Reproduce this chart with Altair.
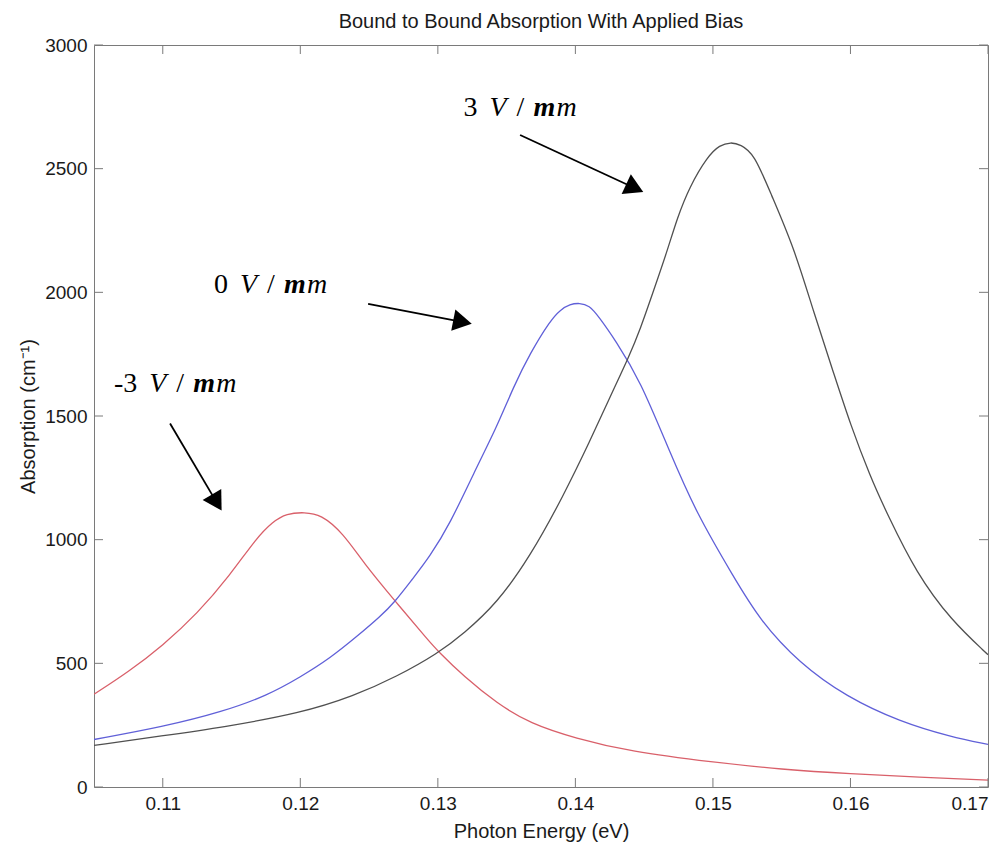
import altair as alt
import pandas as pd

# ---------------- data ----------------
series_names = ["-3 V/um", "0 V/um", "3 V/um"]
series_colors = ["#d9606a", "#6060d8", "#505050"]

red_x = [0.105, 0.1075, 0.11, 0.1125, 0.1149, 0.1168, 0.118, 0.119, 0.1203, 0.1215,
         0.1231, 0.1246, 0.1269, 0.1294, 0.1300, 0.1319, 0.1343, 0.1367, 0.14, 0.144,
         0.15, 0.155, 0.16, 0.165, 0.17]
red_y = [375, 465, 572, 700, 857, 1006, 1073, 1106, 1111, 1102,
         1027, 906, 751, 587, 550, 446, 338, 257, 197, 143,
         100, 71, 53, 40, 28]

blue_x = [0.105, 0.11, 0.1144, 0.1176, 0.12, 0.1222, 0.1241, 0.1258, 0.1269, 0.1281,
          0.1294, 0.1309, 0.1326, 0.1343, 0.1355, 0.1367, 0.1382, 0.1389, 0.1396, 0.1403,
          0.141, 0.1417, 0.1429, 0.1447, 0.1469, 0.1488, 0.1515, 0.1534, 0.1563, 0.1597,
          0.1636, 0.1673, 0.17]
blue_y = [192, 243, 305, 370, 444, 522, 608, 688, 750, 837,
          930, 1066, 1268, 1457, 1618, 1753, 1888, 1929, 1952, 1957,
          1948, 1902, 1807, 1646, 1349, 1107, 850, 675, 500, 365,
          264, 203, 172]

black_x = [0.105, 0.11, 0.1144, 0.12, 0.1239, 0.127, 0.13, 0.1319, 0.1343, 0.1367,
           0.1391, 0.1411, 0.1425, 0.1439, 0.1447, 0.1457, 0.1467, 0.1474, 0.1483, 0.1496,
           0.1505, 0.1513, 0.152, 0.153, 0.1542, 0.1559, 0.1573, 0.1588, 0.16, 0.1614,
           0.1627, 0.1648, 0.1673, 0.17]
black_y = [168, 207, 242, 298, 368, 446, 540, 621, 743, 931,
           1174, 1403, 1575, 1740, 1848, 2009, 2171, 2300, 2427, 2549,
           2596, 2607, 2598, 2560, 2400, 2180, 1924, 1670, 1465, 1260,
           1100, 864, 675, 535]

x_ticks = [0.11, 0.12, 0.13, 0.14, 0.15, 0.16, 0.17]
y_ticks = [0, 500, 1000, 1500, 2000, 2500, 3000]

# annotation anchors (left edge of "V", text baseline) in data units
label_numbers = ["-3", "0", "3"]
label_x = [0.10902, 0.11562, 0.13375]
label_y = [1598, 1999, 2711]

# arrows: start -> arrow head centre (data units), head angle (deg)
arrow_x1 = [0.11053, 0.12493, 0.13598]
arrow_y1 = [1470, 1953, 2636]
arrow_x2 = [0.11381, 0.13157, 0.14411]
arrow_y2 = [1161, 1883, 2427]
arrow_angle = [149, 101, 115]

# ---------------- build tables ----------------
rows = []
for name, xs, ys in zip(series_names, [red_x, blue_x, black_x], [red_y, blue_y, black_y]):
    for xv, yv in zip(xs, ys):
        rows.append({"series": name, "energy": xv, "absorption": yv})
df = pd.DataFrame(rows)

labels_df = pd.DataFrame({"num": label_numbers, "energy": label_x, "absorption": label_y})
arrows_df = pd.DataFrame({"energy": arrow_x1, "absorption": arrow_y1,
                          "e2": arrow_x2, "a2": arrow_y2, "ang": arrow_angle})
xt_df = pd.DataFrame({"energy": x_ticks})
yt_df = pd.DataFrame({"absorption": y_ticks})

W, H = 894, 742
TL = 9
GRAY = "#7a7a7a"
TXT = "#1a1a1a"
SANS = "Liberation Sans"
SERIF = "Liberation Serif"

xscale = alt.Scale(domain=[0.105, 0.17], nice=False, zero=False)
yscale = alt.Scale(domain=[0, 3000], nice=False)

lines = alt.Chart(df).mark_line(strokeWidth=1.3, interpolate="basis", clip=True).encode(
    x=alt.X("energy:Q", scale=xscale,
            axis=alt.Axis(values=x_ticks, format=".2f", title="Photon Energy (eV)",
                          labelPadding=7, titlePadding=8)),
    y=alt.Y("absorption:Q", scale=yscale,
            axis=alt.Axis(values=y_ticks, format="d", title="Absorption (cm⁻¹)",
                          labelPadding=7, titlePadding=6)),
    color=alt.Color("series:N", scale=alt.Scale(domain=series_names, range=series_colors),
                    legend=None),
)

# inward ticks on all four sides
xt_bottom = alt.Chart(xt_df).mark_rule(color=GRAY, strokeWidth=1).encode(
    x=alt.X("energy:Q", scale=xscale), y=alt.value(H), y2=alt.value(H - TL))
xt_top = alt.Chart(xt_df).mark_rule(color=GRAY, strokeWidth=1).encode(
    x=alt.X("energy:Q", scale=xscale), y=alt.value(0), y2=alt.value(TL))
yt_left = alt.Chart(yt_df).mark_rule(color=GRAY, strokeWidth=1).encode(
    y=alt.Y("absorption:Q", scale=yscale), x=alt.value(0), x2=alt.value(TL))
yt_right = alt.Chart(yt_df).mark_rule(color=GRAY, strokeWidth=1).encode(
    y=alt.Y("absorption:Q", scale=yscale), x=alt.value(W - TL), x2=alt.value(W))

# annotation text pieces
FS = 28
base = alt.Chart(labels_df)
enc = dict(x=alt.X("energy:Q", scale=xscale), y=alt.Y("absorption:Q", scale=yscale))
t_num = base.mark_text(font=SERIF, fontSize=FS, align="right", baseline="alphabetic",
                       dx=-12, color="black").encode(text="num:N", **enc)
t_v = base.mark_text(font=SERIF, fontSize=FS, fontStyle="italic", align="left",
                     baseline="alphabetic", dx=0, color="black", text="V").encode(**enc)
t_sl = base.mark_text(font=SERIF, fontSize=FS, align="left", baseline="alphabetic",
                      dx=27, color="black", text="/").encode(**enc)
t_m1 = base.mark_text(font=SERIF, fontSize=FS, fontStyle="italic", fontWeight="bold",
                      align="left", baseline="alphabetic", dx=44, color="black",
                      text="m").encode(**enc)
t_m2 = base.mark_text(font=SERIF, fontSize=FS, fontStyle="italic", align="left",
                      baseline="alphabetic", dx=67, color="black", text="m").encode(**enc)

# arrows
arrow_lines = alt.Chart(arrows_df).mark_rule(color="black", strokeWidth=1.8).encode(
    x=alt.X("energy:Q", scale=xscale), y=alt.Y("absorption:Q", scale=yscale),
    x2="e2:Q", y2="a2:Q")
arrow_heads = alt.Chart(arrows_df).mark_point(shape="triangle", filled=True, size=470,
                                              color="black", opacity=1).encode(
    x=alt.X("e2:Q", scale=xscale), y=alt.Y("a2:Q", scale=yscale),
    angle=alt.Angle("ang:Q", scale=None))

chart = alt.layer(
    lines, xt_bottom, xt_top, yt_left, yt_right,
    arrow_lines, arrow_heads, t_num, t_v, t_sl, t_m1, t_m2
).properties(
    width=W, height=H,
    title=alt.TitleParams("Bound to Bound Absorption With Applied Bias", font=SANS,
                          fontSize=20, fontWeight="normal", color=TXT, offset=4,
                          anchor="middle"),
    autosize=alt.AutoSizeParams(type="none"),
    padding={"left": 86, "top": 37, "right": 12, "bottom": 60},
).configure_view(
    stroke=GRAY, strokeWidth=1
).configure_axis(
    grid=False, ticks=False, domain=False,
    labelFont=SANS, labelFontSize=19, labelColor=TXT,
    titleFont=SANS, titleFontSize=20, titleFontWeight="normal", titleColor=TXT,
)

chart.save("out.html", embed_options={"renderer": "svg", "actions": False})
